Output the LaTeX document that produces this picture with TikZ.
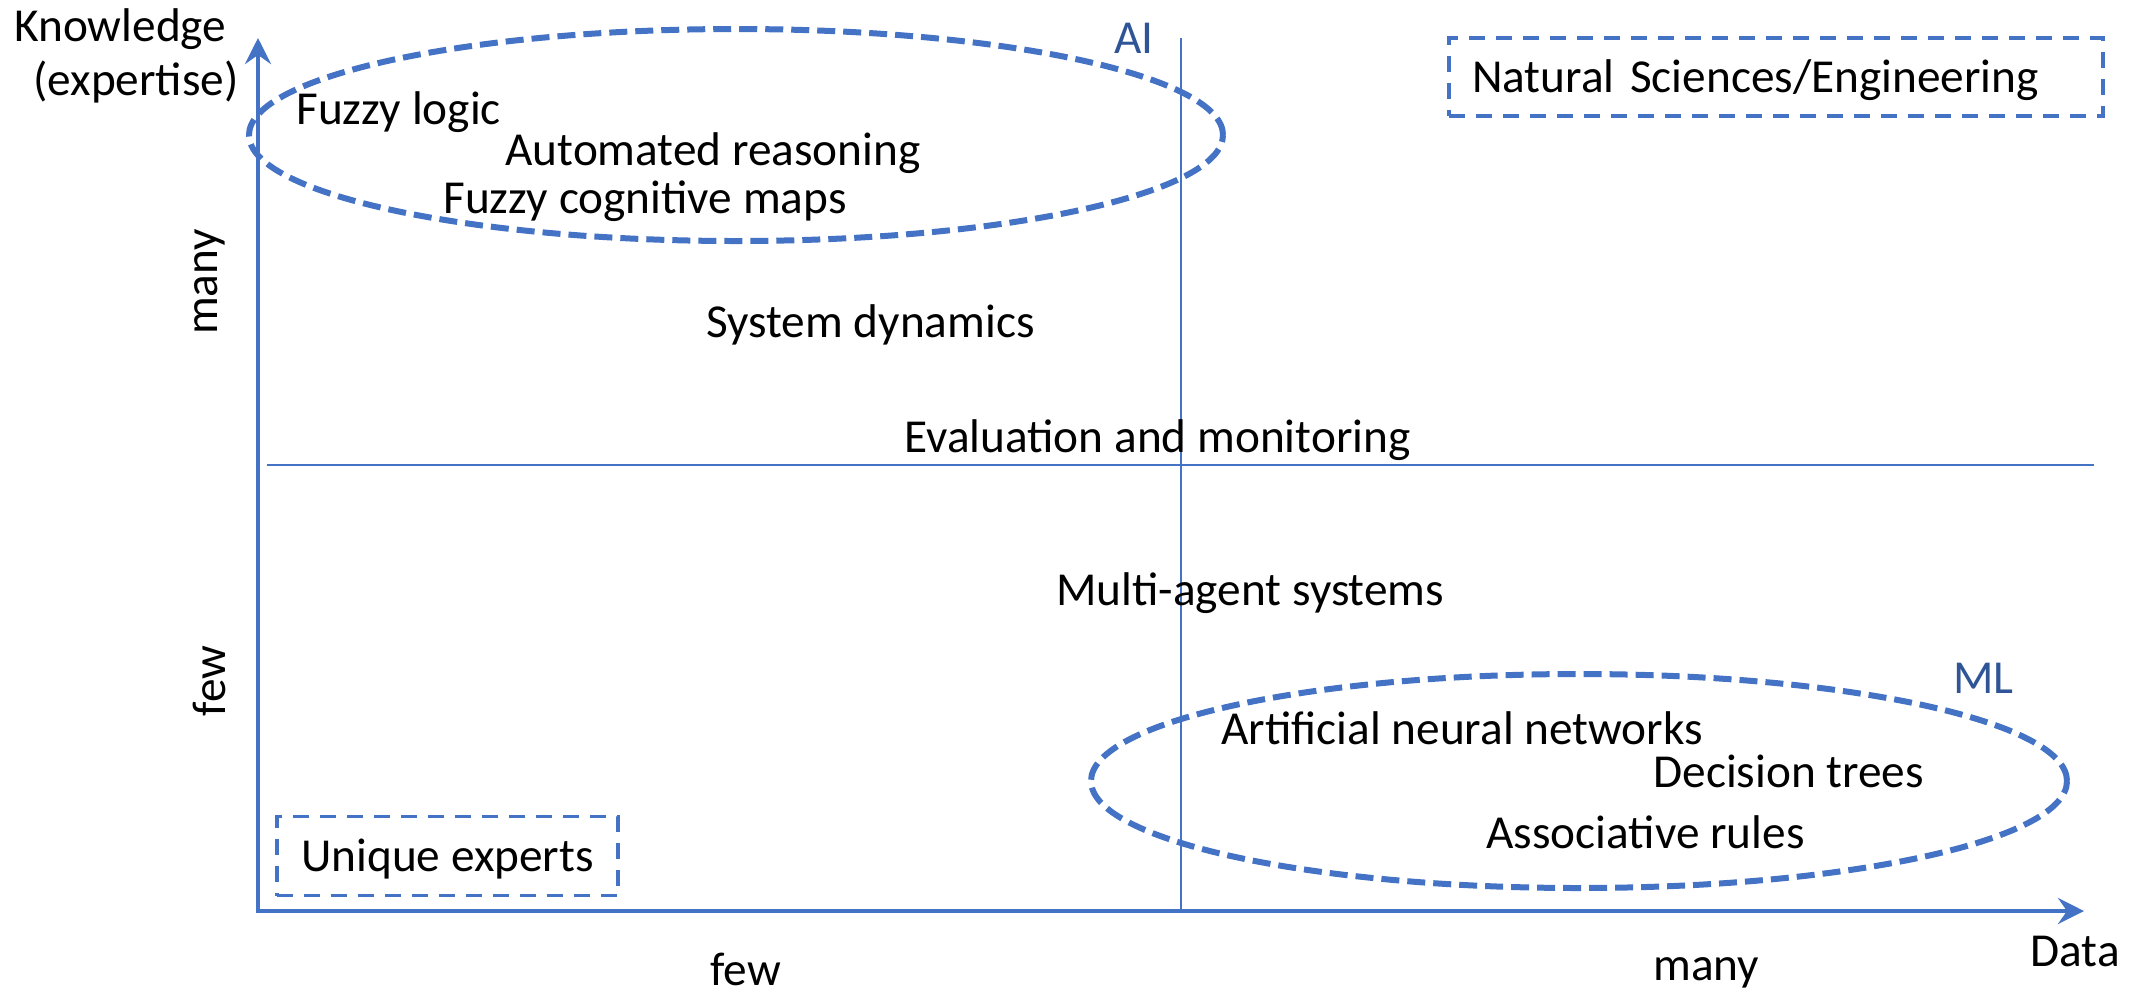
\documentclass[tikz,border=0pt]{standalone}
\usepackage{fontspec}
\setmainfont{Carlito}
\usetikzlibrary{arrows.meta,shapes.geometric}
\definecolor{axisblue}{HTML}{4472C4}
\definecolor{tagblue}{HTML}{2F5597}
\begin{document}
\begin{tikzpicture}[x=0.5pt,y=-0.5pt,
  lbl/.style={font=\fontsize{23.65}{28}\selectfont, inner sep=0pt, anchor=base west},
  tag/.style={lbl, text=tagblue},
  axisline/.style={draw=axisblue, line width=2.35pt, line join=miter,
    {Stealth[length=13pt,width=13pt,inset=4.5pt]}-{Stealth[length=13pt,width=13pt,inset=4.5pt]}},
  divider/.style={draw=axisblue, line width=1.25pt},
  groupset/.style={ellipse, draw=axisblue, line width=3pt,
    dash pattern=on 9pt off 4pt, inner sep=0pt},
  dbox/.style={rectangle, draw=axisblue, line width=1.65pt,
    dash pattern=on 8pt off 5.5pt, inner ysep=0pt,
    font=\fontsize{23.65}{28}\selectfont, text height=15pt, text depth=0pt}
]
\useasboundingbox (0,0) rectangle (2138,993);

% axes
\coordinate (O) at (258,911);
\coordinate (ytip) at (258,38);
\coordinate (xtip) at (2084,911);
\draw[axisline] (ytip) -- (O) -- (xtip);

% quadrant dividers
\coordinate (divL) at (267,465);
\coordinate (divR) at (2094,465);
\coordinate (aiTop) at (1181,38);
\coordinate (aiBot) at (1181,911);
\draw[divider] (divL) -- (divR);
\draw[divider] (aiTop) -- (aiBot);

% grouping ellipses
\node[groupset, minimum width=487pt, minimum height=106pt] (aiset) at (736,135) {};
\node[groupset, minimum width=488pt, minimum height=107pt] (mlset) at (1579,781) {};

% dashed boxes
\node[dbox, minimum width=170.5pt, minimum height=39.5pt] (experts) at (447.5,856) {Unique experts};
\node[dbox, text width=304pt, inner xsep=11.5pt, align=left, minimum height=39pt] (sciences) at (1776,77) {Natural Sciences/Engineering};

% axis titles
\node[lbl] (know1) at (14,41) {Knowledge};
\node[lbl] (know2) at (33,95) {(expertise)};
\node[lbl] (data) at (2030,966) {Data};
\node[lbl] (xfew) at (710,985) {few};
\node[lbl] (xmany) at (1653,980) {many};
\node[lbl, anchor=base, rotate=90] (ymany) at (217,282) {many};
\node[lbl, anchor=base, rotate=90] (yfew) at (225,681) {few};

% group tags
\node[tag] (ai) at (1114,53) {AI};
\node[tag] (ml) at (1953,693) {ML};

% methods
\node[lbl] (fuzzy) at (296,124) {Fuzzy logic};
\node[lbl] (reason) at (505,165) {Automated reasoning};
\node[lbl] (fcm) at (443,213) {Fuzzy cognitive maps};
\node[lbl] (sysdyn) at (706,337) {System dynamics};
\node[lbl] (evalmon) at (904,452) {Evaluation and monitoring};
\node[lbl] (mas) at (1056,605) {Multi-agent systems};
\node[lbl] (ann) at (1221,744) {Artificial neural networks};
\node[lbl] (dtree) at (1653,787) {Decision trees};
\node[lbl] (assoc) at (1486,848) {Associative rules};
\end{tikzpicture}
\end{document}
